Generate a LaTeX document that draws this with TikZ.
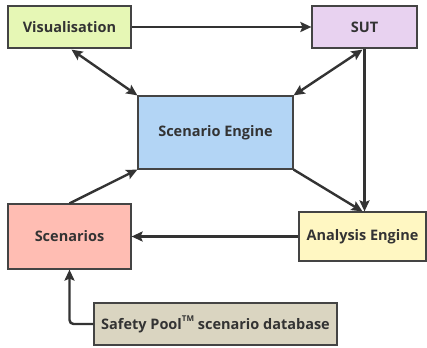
\documentclass[tikz,border=0pt]{standalone}
\usepackage{fontspec}
\setmainfont{Open Sans}
\usetikzlibrary{arrows.meta}
\definecolor{vis}{HTML}{E6F7B5}
\definecolor{sut}{HTML}{E8D2F0}
\definecolor{eng}{HTML}{B3D5F5}
\definecolor{scn}{HTML}{FFBDB3}
\definecolor{ana}{HTML}{FFF7C2}
\definecolor{pool}{HTML}{DAD5C1}
\definecolor{edge}{HTML}{444444}
\definecolor{arr}{HTML}{333333}
\newcommand{\tmark}{\raisebox{0.55em}{\fontsize{8}{8}\selectfont\bfseries TM}}
\begin{document}
\begin{tikzpicture}[x=1pt,y=-1pt,
  box/.style={draw=edge,line width=1.2pt,inner sep=0pt,font=\fontsize{14.5}{17}\selectfont\bfseries,text=arr},
  conn/.style={draw=arr,line width=2.4pt,-{Stealth[length=11pt,width=10pt,inset=2pt]}},
  both/.style={conn,{Stealth[length=11pt,width=10pt,inset=2pt]}-{Stealth[length=11pt,width=10pt,inset=2pt]}}]
\useasboundingbox (0,0) rectangle (427,347);
\node[box,fill=vis,minimum width=123pt,minimum height=42pt] (vis) at (69.5,27) {Visualisation};
\node[box,fill=sut,minimum width=105pt,minimum height=42pt] (sut) at (364.5,27) {SUT};
\node[box,fill=eng,minimum width=155pt,minimum height=73pt] (eng) at (215.5,132.5) {Scenario Engine};
\node[box,fill=scn,minimum width=123pt,minimum height=65pt] (scn) at (69.5,236.5) {Scenarios};
\node[box,fill=ana,minimum width=127pt,minimum height=49pt] (ana) at (362.5,236.5) {Analysis Engine};
\node[box,fill=pool,minimum width=243pt,minimum height=42pt] (pool) at (215.5,324) {Safety Pool\tmark\ scenario database};
\draw[conn] (vis.east) -- (sut.west);
\draw[both] (vis.south) ++(2,1) coordinate (v1) (v1) -- (eng.north west);
\draw[both] (sut.south) ++(-2,1) coordinate (s1) (s1) -- (eng.north east);
\draw[conn] (sut.south) -- (sut.south |- ana.north);
\draw[conn] (eng.south east) -- (ana.north);
\draw[conn] (scn.north) -- (eng.south west);
\draw[conn] (ana.west) -- (scn.east);
\draw[conn,rounded corners=4pt] (pool.west) -| (scn.south);
\end{tikzpicture}
\end{document}
